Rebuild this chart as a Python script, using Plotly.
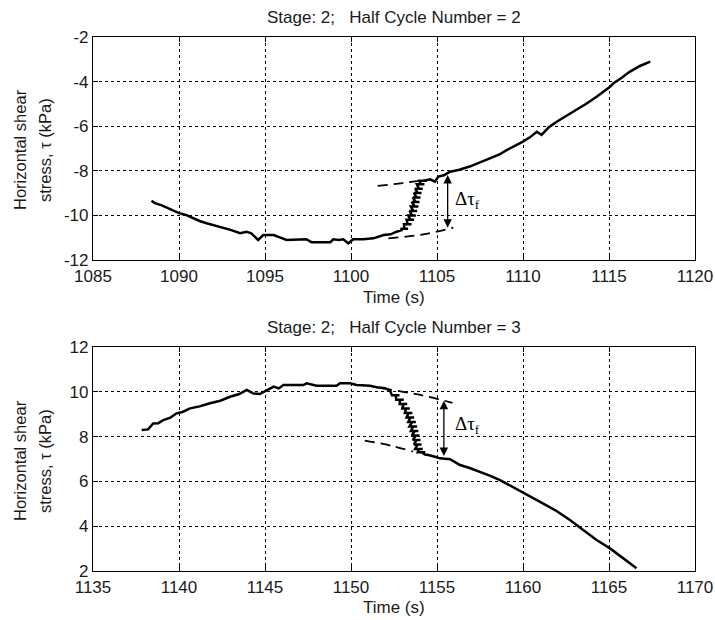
import plotly.graph_objects as go

# ---- Half cycle 2: shear stress record ----
hc2_time = [1088.4, 1088.6, 1089.0, 1089.66, 1090.0, 1090.4, 1090.83, 1091.2, 1091.6, 1092.1,
            1092.58, 1093.0, 1093.55, 1093.93, 1094.2, 1094.6, 1094.9, 1095.5, 1095.9, 1096.25,
            1097.4, 1097.7, 1098.8, 1098.97, 1099.3, 1099.55, 1099.84, 1100.13, 1100.7, 1101.3,
            1101.9, 1102.3, 1102.65, 1103.0,
            # rapid change: noisy readings scatter sideways around the trace
            1102.88, 1103.32, 1103.1,
            1103.08, 1103.52, 1103.3,
            1103.23, 1103.67, 1103.45,
            1103.33, 1103.77, 1103.55,
            1103.4, 1103.84, 1103.62,
            1103.48, 1103.92, 1103.7,
            1103.54, 1103.98, 1103.76,
            1103.6, 1104.04, 1103.82,
            1103.66, 1104.1, 1103.88,
            1103.73, 1104.17, 1103.95,
            1103.83, 1104.27, 1104.05,
            1103.98, 1104.42, 1104.2,
            1104.6, 1104.88, 1105.08, 1105.4, 1105.76, 1106.3, 1106.9, 1107.5, 1108.08, 1108.6,
            1109.05, 1109.5, 1110.0, 1110.4, 1110.8, 1111.08, 1111.5, 1111.96, 1112.5, 1113.1,
            1113.7, 1114.28, 1114.7, 1115.06, 1115.3, 1115.7, 1116.2, 1116.8, 1117.4]
hc2_tau = [-9.34, -9.45, -9.55, -9.76, -9.9, -9.98, -10.13, -10.25, -10.35, -10.45,
           -10.58, -10.65, -10.8, -10.73, -10.8, -11.1, -10.88, -10.88, -11.0, -11.1,
           -11.07, -11.2, -11.2, -11.07, -11.1, -11.07, -11.25, -11.07, -11.07, -11.03,
           -10.88, -10.85, -10.73, -10.65,
           -10.6, -10.6, -10.6,
           -10.4, -10.4, -10.4,
           -10.2, -10.2, -10.2,
           -10.0, -10.0, -10.0,
           -9.8, -9.8, -9.8,
           -9.6, -9.6, -9.6,
           -9.4, -9.4, -9.4,
           -9.2, -9.2, -9.2,
           -9.0, -9.0, -9.0,
           -8.8, -8.8, -8.8,
           -8.6, -8.6, -8.6,
           -8.45, -8.45, -8.45,
           -8.38, -8.49, -8.26, -8.2, -8.04, -7.95, -7.81, -7.62, -7.44, -7.28,
           -7.07, -6.9, -6.69, -6.5, -6.25, -6.39, -6.05, -5.8, -5.55, -5.27,
           -4.98, -4.68, -4.45, -4.23, -4.05, -3.85, -3.56, -3.3, -3.1]

# ---- Half cycle 3: shear stress record ----
hc3_time = [1137.83, 1138.2, 1138.5, 1138.8, 1139.09, 1139.5, 1139.86, 1140.2, 1140.64, 1141.2,
            1141.8, 1142.4, 1142.97, 1143.5, 1143.94, 1144.3, 1144.7, 1145.1, 1145.5, 1145.8,
            1146.07, 1147.23, 1147.42, 1148.0, 1149.16, 1149.36, 1149.94, 1150.33, 1151.1, 1151.49,
            1151.98, 1152.27,
            # rapid change: noisy readings scatter sideways around the trace
            1152.38, 1152.82, 1152.6,
            1152.63, 1153.07, 1152.85,
            1152.83, 1153.27, 1153.05,
            1152.98, 1153.42, 1153.2,
            1153.13, 1153.57, 1153.35,
            1153.23, 1153.67, 1153.45,
            1153.33, 1153.77, 1153.55,
            1153.4, 1153.84, 1153.62,
            1153.48, 1153.92, 1153.7,
            1153.54, 1153.98, 1153.76,
            1153.6, 1154.04, 1153.82,
            1153.66, 1154.1, 1153.88,
            1153.73, 1154.17, 1153.95,
            1153.88, 1154.32, 1154.1,
            1154.3, 1154.5,
            1154.88, 1155.17, 1155.76, 1156.34, 1156.9, 1157.5, 1158.1, 1158.66, 1159.3, 1159.92,
            1160.5, 1160.99, 1161.86, 1162.73, 1163.5, 1164.28, 1165.06, 1165.84, 1166.6]
hc3_tau = [8.29, 8.32, 8.59, 8.6, 8.74, 8.85, 9.04, 9.1, 9.26, 9.35,
           9.49, 9.6, 9.78, 9.9, 10.08, 9.93, 9.9, 10.08, 10.23, 10.15,
           10.3, 10.3, 10.38, 10.27, 10.27, 10.38, 10.38, 10.3, 10.27, 10.2,
           10.16, 10.05,
           9.85, 9.85, 9.85,
           9.65, 9.65, 9.65,
           9.45, 9.45, 9.45,
           9.25, 9.25, 9.25,
           9.05, 9.05, 9.05,
           8.85, 8.85, 8.85,
           8.65, 8.65, 8.65,
           8.45, 8.45, 8.45,
           8.25, 8.25, 8.25,
           8.05, 8.05, 8.05,
           7.85, 7.85, 7.85,
           7.65, 7.65, 7.65,
           7.45, 7.45, 7.45,
           7.3, 7.3, 7.3,
           7.2, 7.18,
           7.1, 7.03, 6.99, 6.73, 6.6, 6.43, 6.25, 6.06, 5.8, 5.54,
           5.3, 5.09, 4.72, 4.28, 3.83, 3.38, 3.01, 2.56, 2.12]

# Extrapolated trend lines before / after the drop
hc2_upper_t, hc2_upper_v = [1101.55, 1103.0, 1104.3], [-8.68, -8.55, -8.41]
hc2_lower_t, hc2_lower_v = [1102.17, 1104.2, 1105.95], [-11.03, -10.85, -10.55]
hc3_upper_t, hc3_upper_v = [1151.8, 1153.9, 1155.9], [10.16, 9.88, 9.51]
hc3_lower_t, hc3_lower_v = [1150.8, 1152.3, 1153.6], [7.82, 7.6, 7.33]

# Delta tau_f arrows: (time, top, bottom) and label position
hc2_arrow = (1105.62, -8.19, -10.62)
hc3_arrow = (1155.4, 9.6, 7.07)
hc2_label = (1106.8, -9.3)
hc3_label = (1156.8, 8.52)

titles = ["Stage: 2;\u00a0\u00a0\u00a0Half Cycle Number = 2",
          "Stage: 2;\u00a0\u00a0\u00a0Half Cycle Number = 3"]
x_ranges = [[1085, 1120], [1135, 1170]]
y_ranges = [[-12, -2], [2, 12]]
y_ticks = [[-12, -10, -8, -6, -4, -2], [2, 4, 6, 8, 10, 12]]
y_ticktext = [["-12", "-10", "-8", "-6", "-4", "-2"], ["2", "4", "6", "8", "10", "12"]]

W, H = 715, 620
x_dom = [93 / W, 695 / W]
y_doms = [[1 - 260 / H, 1 - 37 / H], [1 - 571 / H, 1 - 347 / H]]

FONT = "Liberation Sans, Arial, sans-serif"
TXT = "#1a1a1a"

fig = go.Figure()
line_style = dict(color="black", width=2.5)
dash_style = dict(color="black", width=1.8, dash="10px,6px")

fig.add_trace(go.Scatter(x=hc2_time, y=hc2_tau, mode="lines", line=line_style,
                         xaxis="x", yaxis="y"))
fig.add_trace(go.Scatter(x=hc2_upper_t, y=hc2_upper_v, mode="lines", line=dash_style,
                         line_shape="spline", xaxis="x", yaxis="y"))
fig.add_trace(go.Scatter(x=hc2_lower_t, y=hc2_lower_v, mode="lines", line=dash_style,
                         line_shape="spline", xaxis="x", yaxis="y"))
fig.add_trace(go.Scatter(x=hc3_time, y=hc3_tau, mode="lines", line=line_style,
                         xaxis="x2", yaxis="y2"))
fig.add_trace(go.Scatter(x=hc3_upper_t, y=hc3_upper_v, mode="lines", line=dash_style,
                         line_shape="spline", xaxis="x2", yaxis="y2"))
fig.add_trace(go.Scatter(x=hc3_lower_t, y=hc3_lower_v, mode="lines", line=dash_style,
                         line_shape="spline", xaxis="x2", yaxis="y2"))

axis_common = dict(
    showgrid=True, gridcolor="black", gridwidth=1, griddash="3px,3px",
    showline=True, linecolor="black", linewidth=1.2, mirror="ticks",
    ticks="inside", ticklen=5, tickcolor="black", tickwidth=1,
    zeroline=False, automargin=False,
    tickfont=dict(family=FONT, size=17, color=TXT),
)

layout = dict(
    width=W, height=H, margin=dict(l=0, r=0, t=0, b=0, autoexpand=False),
    paper_bgcolor="white", plot_bgcolor="white", showlegend=False,
)
for i in range(2):
    sx = "" if i == 0 else "2"
    layout["xaxis" + sx] = dict(axis_common, range=x_ranges[i], domain=x_dom,
                                anchor="y" + sx, dtick=5, tick0=x_ranges[i][0])
    layout["yaxis" + sx] = dict(axis_common, range=y_ranges[i], domain=y_doms[i],
                                anchor="x" + sx, tickvals=y_ticks[i],
                                ticktext=y_ticktext[i])
fig.update_layout(**layout)

annotations = []
title_y = [17, 327]
xtitle_y = [297, 607]
ytitle_c = [150, 461]
for i in range(2):
    annotations.append(dict(text=titles[i], xref="paper", yref="paper",
                            x=394 / W, y=1 - title_y[i] / H, showarrow=False,
                            xanchor="center", yanchor="middle",
                            font=dict(family=FONT, size=17, color=TXT)))
    annotations.append(dict(text="Time (s)", xref="paper", yref="paper",
                            x=394 / W, y=1 - xtitle_y[i] / H, showarrow=False,
                            xanchor="center", yanchor="middle",
                            font=dict(family=FONT, size=17, color=TXT)))
    annotations.append(dict(text="Horizontal shear", xref="paper", yref="paper",
                            x=20 / W, y=1 - ytitle_c[i] / H, showarrow=False,
                            textangle=-90, xanchor="center", yanchor="middle",
                            font=dict(family=FONT, size=16.5, color=TXT)))
    annotations.append(dict(text="stress, \u03c4 (kPa)", xref="paper", yref="paper",
                            x=45 / W, y=1 - ytitle_c[i] / H, showarrow=False,
                            textangle=-90, xanchor="center", yanchor="middle",
                            font=dict(family=FONT, size=16.5, color=TXT)))

for (ax_t, top, bot), (lx, ly), sx in [(hc2_arrow, hc2_label, ""), (hc3_arrow, hc3_label, "2")]:
    annotations.append(dict(x=ax_t, y=top, ax=ax_t, ay=bot,
                            xref="x" + sx, yref="y" + sx, axref="x" + sx, ayref="y" + sx,
                            text="", showarrow=True, arrowhead=2, arrowsize=1.3,
                            arrowwidth=1.3, arrowcolor="black", arrowside="end+start"))
    annotations.append(dict(x=lx, y=ly, xref="x" + sx, yref="y" + sx,
                            text="\u0394\u03c4<sub>f</sub>", showarrow=False,
                            xanchor="center", yanchor="middle",
                            font=dict(family="Liberation Serif, Times New Roman, serif",
                                      size=19, color="black")))
fig.update_layout(annotations=annotations)

fig.write_html("out.html")
